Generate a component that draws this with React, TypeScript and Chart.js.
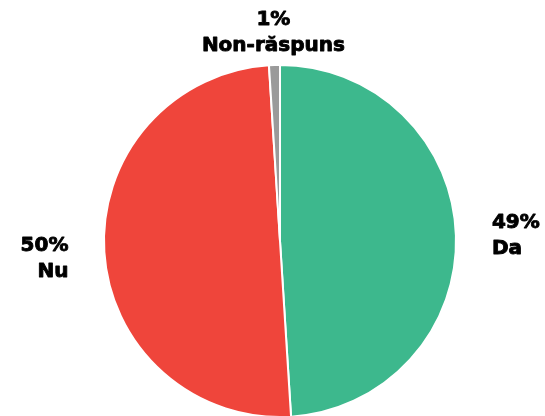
import React, { useEffect, useRef } from "react";
import { Chart, registerables } from "chart.js";

Chart.register(...registerables);

const categories = ["Da", "Nu", "Non-răspuns"];
const values = [49, 50, 1];
const percentLabels = ["49%", "50%", "1%"];
const colors = ["#3db88d", "#ef453b", "#9a9a9a"];

const labelPlugin = {
  id: "outerLabels",
  afterDraw(chart: any) {
    const ctx = chart.ctx;
    const meta = chart.getDatasetMeta(0);
    ctx.save();
    ctx.font = "bold 20px 'DejaVu Sans'";
    ctx.fillStyle = "#000";
    ctx.strokeStyle = "#000";
    ctx.lineWidth = 0.9;
    ctx.lineJoin = "round";
    ctx.textBaseline = "middle";
    const lh = 26;
    meta.data.forEach((arc: any, i: number) => {
      const { x, y, startAngle, endAngle, outerRadius } = arc.getProps(
        ["x", "y", "startAngle", "endAngle", "outerRadius"],
        true
      );
      const mid = (startAngle + endAngle) / 2;
      const d = 35;
      const ax = x + (outerRadius + d) * Math.cos(mid);
      const ay = y + (outerRadius + d) * Math.sin(mid);
      const c = Math.cos(mid);
      let align: CanvasTextAlign = "center";
      let dx = 0;
      let dy = 3;
      if (c > 0.3) {
        align = "left";
        dx = 1;
        dy = 1;
      } else if (c < -0.3) {
        align = "right";
        dx = -1;
        dy = 5;
      }
      ctx.textAlign = align;
      const topY = ay - lh / 2 + dy;
      ctx.fillText(percentLabels[i], ax + dx, topY);
      ctx.strokeText(percentLabels[i], ax + dx, topY);
      ctx.fillText(categories[i], ax + dx, topY + lh);
      ctx.strokeText(categories[i], ax + dx, topY + lh);
    });
    ctx.restore();
  },
};

export default function App() {
  const ref = useRef<HTMLCanvasElement>(null);
  useEffect(() => {
    document.body.style.margin = "0";
    const chart = new Chart(ref.current!, {
      type: "pie",
      data: {
        labels: categories,
        datasets: [
          {
            data: values,
            backgroundColor: colors,
            borderColor: "#ffffff",
            borderWidth: 2,
          },
        ],
      },
      options: {
        animation: false,
        responsive: false,
        maintainAspectRatio: false,
        layout: { padding: { top: 64, bottom: 2, left: 103, right: 88 } },
        plugins: {
          legend: { display: false },
          tooltip: { enabled: false },
        },
      },
      plugins: [labelPlugin],
    });
    return () => chart.destroy();
  }, []);
  return (
    <div style={{ width: 545, height: 416, overflow: "hidden" }}>
      <canvas ref={ref} width={545} height={420} style={{ display: "block" }} />
    </div>
  );
}
